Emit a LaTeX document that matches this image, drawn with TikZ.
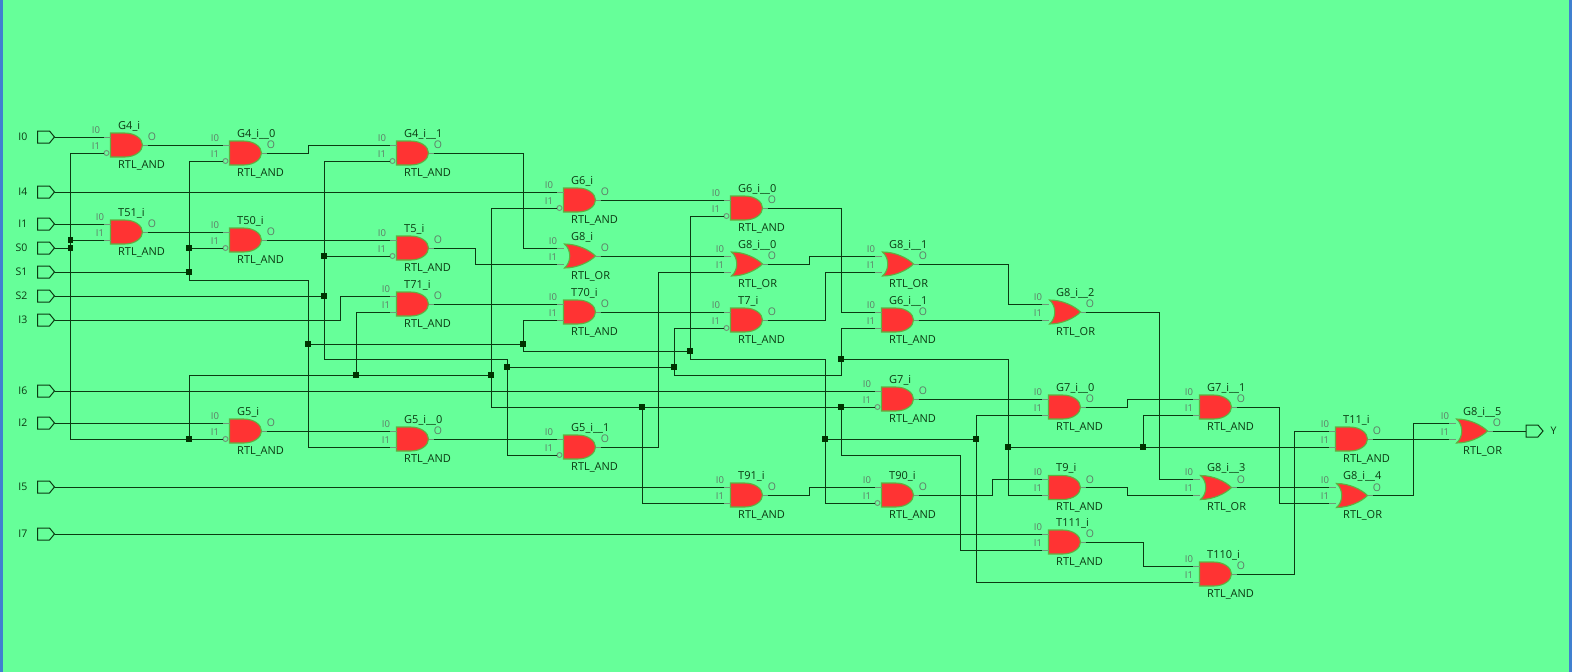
\documentclass[tikz,border=0pt]{standalone}
\usepackage{fontspec}
\setmainfont{Open Sans}
\usetikzlibrary{shapes.symbols}
\definecolor{bggreen}{HTML}{66FF99}
\definecolor{sideblue}{HTML}{4080D0}
\definecolor{gatered}{HTML}{FF3333}
\definecolor{gateedge}{HTML}{5FB040}
\definecolor{wiredark}{HTML}{0B3A12}
\definecolor{juncdark}{HTML}{003300}
\definecolor{stubgray}{HTML}{6F9A78}
\definecolor{pingray}{HTML}{5E7A66}
\tikzset{
    wire/.style={draw=wiredark, line width=1pt},
    stub/.style={draw=stubgray, line width=1pt},
    junc/.style={fill=juncdark, rectangle, minimum size=5.5pt, inner sep=0pt, outer sep=0pt},
    port/.style={draw=wiredark, line width=1pt, signal, signal to=east, signal pointer angle=100, minimum width=17pt, minimum height=12pt, inner sep=0pt, outer sep=0pt},
    portlabel/.style={anchor=base east, inner sep=0pt, text=wiredark, font=\fontsize{10.5}{12}\selectfont},
    gatebox/.style={rectangle, minimum width=32pt, minimum height=24pt, inner sep=0pt, outer sep=0pt},
    gatebody/.style={fill=gatered, draw=gateedge, line width=1.1pt},
    bubble/.style={circle, draw=stubgray, line width=1pt, minimum size=5pt, inner sep=0pt},
    gatelabel/.style={anchor=base west, inner sep=0pt, text=wiredark, font=\fontsize{11}{13}\selectfont},
    pinlabel/.style={anchor=base, inner sep=0pt, text=pingray, font=\fontsize{9.5}{11}\selectfont},
    outlabel/.style={pinlabel, font=\fontsize{10.5}{12}\selectfont},
    elbow/.style={to path={-| (#1,0 |- \tikztotarget) -- (\tikztotarget)}},
}
\def\gatepathAND{(0,-4) -- (14,-4) .. controls (25,-4) and (32,2) .. (32,8) .. controls (32,14) and (25,20) .. (14,20) -- (0,20) -- cycle}
\def\gatepathOR{(1,-4) .. controls (14,-4) and (26,2) .. (32,8) .. controls (26,14) and (14,20) .. (1,20) .. controls (8,14) and (8,2) .. (1,-4) -- cycle}
% name, x, y of pin I0, title, AND or OR, pin label shift
\newcommand{\logicgate}[6]{
    \begin{scope}[shift={(#2,#3)}]
        \expandafter\let\expandafter\gateoutline\csname gatepath#5\endcsname
        \node[gatebox] (#1) at (16,8) {};
        \path[gatebody] \gateoutline;
        \coordinate (#1-i0) at (-7,0);
        \coordinate (#1-i1) at (-7,16);
        \coordinate (#1-o) at (37,8);
        \draw[stub] (#1-i0) -- (0,0);
        \draw[stub] (37,8) -- (32,8);
        \ifnum#6=1
            \node[bubble] (#1-b) at (-4,16) {};
            \node[pinlabel] (#1-l0) at (-14.5,-4) {I0};
            \node[pinlabel] (#1-l1) at (-14.5,12) {I1};
        \else
            \draw[stub] (#1-i1) -- (0,16);
            \node[pinlabel] (#1-l0) at (-10.5,-4) {I0};
            \node[pinlabel] (#1-l1) at (-10.5,12) {I1};
        \fi
        \node[outlabel] (#1-lo) at (41.5,3.5) {O};
        \node[gatelabel] (#1-t) at (7.5,-8) {#4};
        \node[gatelabel] (#1-r) at (7.5,31) {RTL\_#5};
    \end{scope}
}
\begin{document}
\begin{tikzpicture}[x=1pt,y=-1pt]
    \fill[bggreen] (0,0) rectangle (1572,672);
    \useasboundingbox (0,0) rectangle (1572,672);
    \fill[sideblue] (0,0) rectangle (3,672);
    \fill[sideblue] (1569,0) rectangle (1572,672);
    \foreach \nm/\py in {I0/137, I4/192, I1/224, S0/248, S1/272, S2/296, I3/320, I6/391, I2/423, I5/487, I7/534} {
        \node[port] (p\nm) at (43.5,\py) {};
        \node[portlabel] (l\nm) at (27.5,\py+3.5) {\nm};
    }
    \node[port] (pY) at (1532,431) {};
    \node[portlabel, anchor=base west] (lY) at (1550.5,434.5) {Y};
    \logicgate{g4i}{110.5}{137}{G4\_i}{AND}{1}
    \logicgate{g4iz}{229.5}{145}{G4\_i\_\_0}{AND}{1}
    \logicgate{g4io}{396.5}{145}{G4\_i\_\_1}{AND}{1}
    \logicgate{t51i}{110.5}{224}{T51\_i}{AND}{0}
    \logicgate{t50i}{229.5}{232}{T50\_i}{AND}{1}
    \logicgate{t5i}{396.5}{240}{T5\_i}{AND}{1}
    \logicgate{t71i}{396.5}{296}{T71\_i}{AND}{0}
    \logicgate{g5i}{229.5}{423}{G5\_i}{AND}{1}
    \logicgate{g5iz}{396.5}{431}{G5\_i\_\_0}{AND}{0}
    \logicgate{g5io}{563.5}{439}{G5\_i\_\_1}{AND}{1}
    \logicgate{g6i}{563.5}{192}{G6\_i}{AND}{1}
    \logicgate{g8i}{563.5}{248}{G8\_i}{OR}{0}
    \logicgate{t70i}{563.5}{304}{T70\_i}{AND}{0}
    \logicgate{g6iz}{730.5}{200}{G6\_i\_\_0}{AND}{1}
    \logicgate{g8iz}{730.5}{256}{G8\_i\_\_0}{OR}{0}
    \logicgate{t7i}{730.5}{312}{T7\_i}{AND}{1}
    \logicgate{t91i}{730.5}{487}{T91\_i}{AND}{0}
    \logicgate{g8io}{881.5}{256}{G8\_i\_\_1}{OR}{0}
    \logicgate{g6io}{881.5}{312}{G6\_i\_\_1}{AND}{0}
    \logicgate{g7i}{881.5}{391}{G7\_i}{AND}{1}
    \logicgate{t90i}{881.5}{487}{T90\_i}{AND}{1}
    \logicgate{g8it}{1048.5}{304}{G8\_i\_\_2}{OR}{0}
    \logicgate{g7iz}{1048.5}{399}{G7\_i\_\_0}{AND}{0}
    \logicgate{t9i}{1048.5}{479.5}{T9\_i}{AND}{0}
    \logicgate{t111i}{1048.5}{534}{T111\_i}{AND}{0}
    \logicgate{g7io}{1199.5}{399}{G7\_i\_\_1}{AND}{0}
    \logicgate{g8ih}{1199.5}{479.5}{G8\_i\_\_3}{OR}{0}
    \logicgate{t110i}{1199.5}{566}{T110\_i}{AND}{0}
    \logicgate{t11i}{1335.5}{431}{T11\_i}{AND}{0}
    \logicgate{g8if}{1335.5}{487.5}{G8\_i\_\_4}{OR}{0}
    \logicgate{g8iv}{1455.5}{423}{G8\_i\_\_5}{OR}{0}
    \node[junc] (j1) at (70.5,248) {};
    \node[junc] (j2) at (70.5,240) {};
    \node[junc] (j3) at (189,439) {};
    \node[junc] (j4) at (189,248) {};
    \node[junc] (j5) at (189,272) {};
    \node[junc] (j6) at (308,344) {};
    \node[junc] (j7) at (523,344) {};
    \node[junc] (j8) at (690,351) {};
    \node[junc] (j9) at (825,439) {};
    \node[junc] (j10) at (976,439) {};
    \node[junc] (j11) at (324,296) {};
    \node[junc] (j12) at (324,256) {};
    \node[junc] (j13) at (507,367) {};
    \node[junc] (j14) at (674,367) {};
    \node[junc] (j15) at (841,359) {};
    \node[junc] (j16) at (1008,447) {};
    \node[junc] (j17) at (1143,447) {};
    \node[junc] (j18) at (356,375) {};
    \node[junc] (j19) at (491,375) {};
    \node[junc] (j20) at (642,407) {};
    \node[junc] (j21) at (841,407) {};
    \begin{scope}[every path/.append style={wire}]
    \path (pI0) -- (g4i-i0);
    \path (pI4) -- (g6i-i0);
    \path (pI1) -- (t51i-i0);
    \path (pI6) -- (g7i-i0);
    \path (pI2) -- (g5i-i0);
    \path (pI5) -- (t91i-i0);
    \path (pI7) -- (t111i-i0);
    \path (pI3) to[elbow=340] (t71i-i0);
    \path (pS0) -- (j1);
    \path (j1) -- (j2);
    \path (j2) -- (t51i-i1);
    \path (j2) |- (g4i-i1);
    \path (j1) |- (j3);
    \path (j3) -- (g5i-i1);
    \path (j3) |- (j18);
    \path (j18) -- (j19);
    \path (j18) |- (t71i-i1);
    \path (j19) |- (g6i-i1);
    \path (j19) |- (j20);
    \path (j20) |- (t91i-i1);
    \path (j20) -- (j21);
    \path (j21) -- (g7i-i1);
    \path (j21) |- (960,455) |- (t111i-i1);
    \path (pS1) -- (j5);
    \path (j5) -- (j4);
    \path (j4) -- (t50i-i1);
    \path (j4) |- (g4iz-i1);
    \path (j5) |- (308,280) -- (j6);
    \path (j6) |- (g5iz-i1);
    \path (j6) -- (j7);
    \path (j7) |- (t70i-i1);
    \path (j7) |- (j8);
    \path (j8) |- (g6iz-i1);
    \path (j8) |- (825,359) -- (j9);
    \path (j9) |- (t90i-i1);
    \path (j9) -- (j10);
    \path (j10) |- (g7iz-i1);
    \path (j10) |- (t110i-i1);
    \path (pS2) -- (j11);
    \path (j11) -- (j12);
    \path (j12) -- (t5i-i1);
    \path (j12) |- (g4io-i1);
    \path (j11) |- (507,359) -- (j13);
    \path (j13) |- (g5io-i1);
    \path (j13) -- (j14);
    \path (j14) |- (t7i-i1);
    \path (j14) |- (841,375) -- (j15);
    \path (j15) |- (g6io-i1);
    \path (j15) -| (j16);
    \path (j16) |- (t9i-i1);
    \path (j16) -- (j17);
    \path (j17) -- (t11i-i1);
    \path (j17) |- (g7io-i1);
    \path (g4i-o) -- (g4iz-i0);
    \path (g4iz-o) to[elbow=308] (g4io-i0);
    \path (g4io-o) to[elbow=523] (g8i-i0);
    \path (t51i-o) -- (t50i-i0);
    \path (t50i-o) -- (t5i-i0);
    \path (t5i-o) to[elbow=475] (g8i-i1);
    \path (t71i-o) -- (t70i-i0);
    \path (t70i-o) -- (t7i-i0);
    \path (g6i-o) -- (g6iz-i0);
    \path (g8i-o) -- (g8iz-i0);
    \path (g5i-o) -- (g5iz-i0);
    \path (g5iz-o) -- (g5io-i0);
    \path (g5io-o) to[elbow=658] (g8iz-i1);
    \path (g6iz-o) to[elbow=841] (g6io-i0);
    \path (g8iz-o) to[elbow=809] (g8io-i0);
    \path (t7i-o) to[elbow=825] (g8io-i1);
    \path (t91i-o) to[elbow=809] (t90i-i0);
    \path (g8io-o) to[elbow=1008] (g8it-i0);
    \path (g6io-o) -- (g8it-i1);
    \path (g7i-o) -- (g7iz-i0);
    \path (t90i-o) to[elbow=992] (t9i-i0);
    \path (g8it-o) to[elbow=1159] (g8ih-i0);
    \path (g7iz-o) to[elbow=1127] (g7io-i0);
    \path (t9i-o) to[elbow=1127] (g8ih-i1);
    \path (t111i-o) to[elbow=1143] (t110i-i0);
    \path (g7io-o) to[elbow=1279] (g8if-i1);
    \path (g8ih-o) -- (g8if-i0);
    \path (t110i-o) to[elbow=1294] (t11i-i0);
    \path (t11i-o) -- (g8iv-i1);
    \path (g8if-o) to[elbow=1413] (g8iv-i0);
    \path (g8iv-o) -- (pY);
    \end{scope}
\end{tikzpicture}
\end{document}
